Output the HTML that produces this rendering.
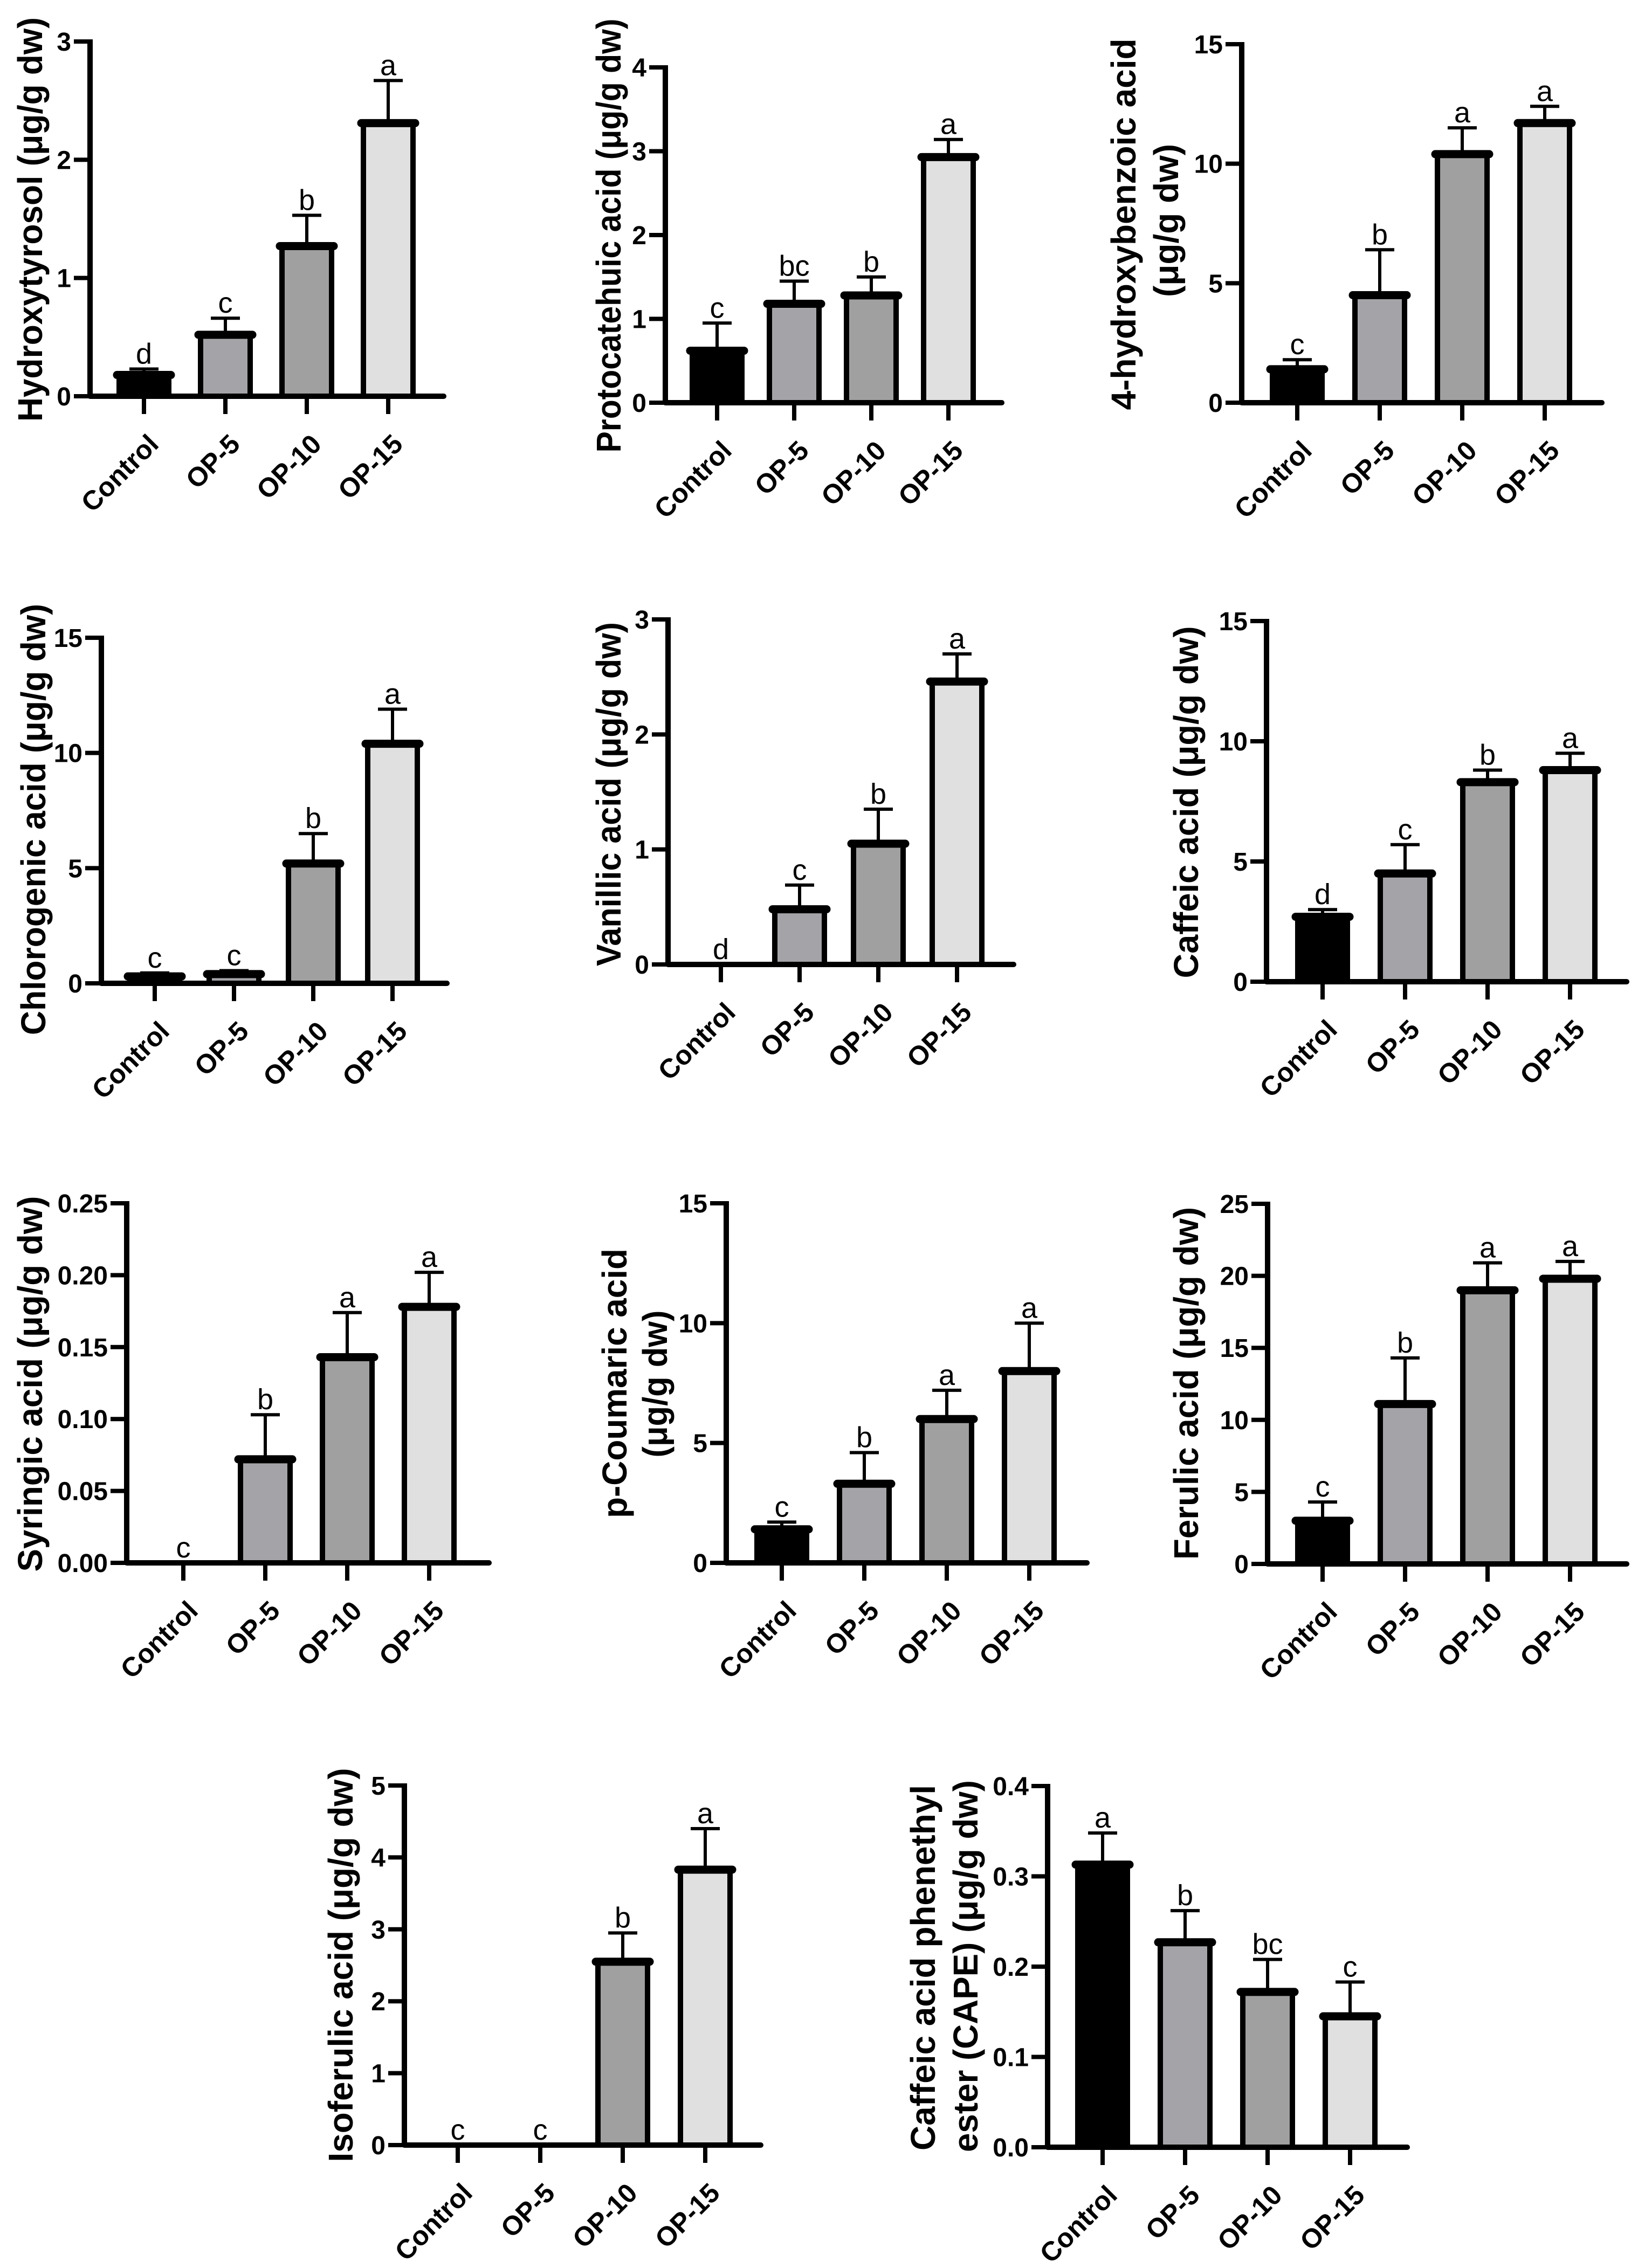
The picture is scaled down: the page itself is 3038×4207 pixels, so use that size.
<!DOCTYPE html>
<html><head><meta charset="utf-8">
<style>
html,body{margin:0;padding:0;background:#fff;}
svg{display:block;}
text{font-family:"Liberation Sans",Arial,sans-serif;}
</style></head>
<body>
<svg id="fig" width="3038" height="4207" viewBox="0 0 3038 4207" xmlns="http://www.w3.org/2000/svg"></svg>
<script>
const categories = ["Control","OP-5","OP-10","OP-15"];
const barColors = ["#000000","#a4a4a8","#a0a0a0","#e0e0e0"];

const hydroxytyrosolMeans = [0.18,0.52,1.27,2.31];
const hydroxytyrosolErr = [0.23,0.66,1.53,2.67];
const hydroxytyrosolLetters = ["d","c","b","a"];
const hydroxytyrosolTicks = [0,1,2,3];

const protocatehuicMeans = [0.62,1.18,1.28,2.93];
const protocatehuicErr = [0.95,1.45,1.50,3.14];
const protocatehuicLetters = ["c","bc","b","a"];
const protocatehuicTicks = [0,1,2,3,4];

const hydroxybenzoicMeans = [1.4,4.5,10.4,11.7];
const hydroxybenzoicErr = [1.8,6.4,11.5,12.4];
const hydroxybenzoicLetters = ["c","b","a","a"];
const hydroxybenzoicTicks = [0,5,10,15];

const chlorogenicMeans = [0.3,0.4,5.2,10.4];
const chlorogenicErr = [0.45,0.55,6.5,11.9];
const chlorogenicLetters = ["c","c","b","a"];
const chlorogenicTicks = [0,5,10,15];

const vanillicMeans = [0,0.48,1.05,2.46];
const vanillicErr = [0,0.69,1.35,2.70];
const vanillicLetters = ["d","c","b","a"];
const vanillicTicks = [0,1,2,3];

const caffeicMeans = [2.7,4.5,8.3,8.8];
const caffeicErr = [3.0,5.7,8.8,9.5];
const caffeicLetters = ["d","c","b","a"];
const caffeicTicks = [0,5,10,15];

const syringicMeans = [0,0.072,0.143,0.178];
const syringicErr = [0,0.103,0.174,0.202];
const syringicLetters = ["c","b","a","a"];
const syringicTicks = [0,0.05,0.10,0.15,0.20,0.25];

const coumaricMeans = [1.4,3.3,6.0,8.0];
const coumaricErr = [1.7,4.6,7.2,10.0];
const coumaricLetters = ["c","b","a","a"];
const coumaricTicks = [0,5,10,15];

const ferulicMeans = [3.0,11.1,19.0,19.8];
const ferulicErr = [4.3,14.3,20.9,21.0];
const ferulicLetters = ["c","b","a","a"];
const ferulicTicks = [0,5,10,15,20,25];

const isoferulicMeans = [0,0,2.55,3.83];
const isoferulicErr = [0,0,2.95,4.40];
const isoferulicLetters = ["c","c","b","a"];
const isoferulicTicks = [0,1,2,3,4,5];

const capeMeans = [0.313,0.227,0.172,0.145];
const capeErr = [0.348,0.262,0.208,0.183];
const capeLetters = ["a","b","bc","c"];
const capeTicks = [0,0.1,0.2,0.3,0.4];

const NS = "http://www.w3.org/2000/svg";
const svg = document.getElementById("fig");
function mk(tag, attrs, parent){
  const e = document.createElementNS(NS, tag);
  for (const k in attrs) e.setAttribute(k, attrs[k]);
  (parent||svg).appendChild(e);
  return e;
}

const panels = [
 {name:"hydroxytyrosol", means:hydroxytyrosolMeans, err:hydroxytyrosolErr, letters:hydroxytyrosolLetters, ticks:hydroxytyrosolTicks, dec:0,
  ax:167, top:77, y0:735, end:823, c0:267, dx:151,
  titles:[{t:"Hydroxytyrosol (μg/g dw)", x:56, cy:407, len:750}]},
 {name:"protocatechuic", means:protocatehuicMeans, err:protocatehuicErr, letters:protocatehuicLetters, ticks:protocatehuicTicks, dec:0,
  ax:1234, top:125, y0:747, end:1858, c0:1330, dx:143,
  titles:[{t:"Protocatehuic acid (μg/g dw)", x:1129, cy:437, len:805}]},
 {name:"hydroxybenzoic", means:hydroxybenzoicMeans, err:hydroxybenzoicErr, letters:hydroxybenzoicLetters, ticks:hydroxybenzoicTicks, dec:0,
  ax:2303, top:82, y0:747, end:2971, c0:2406, dx:153,
  titles:[{t:"4-hydroxybenzoic acid", x:2084, cy:416, len:689},{t:"(μg/g dw)", x:2163, cy:409, len:284}]},
 {name:"chlorogenic", means:chlorogenicMeans, err:chlorogenicErr, letters:chlorogenicLetters, ticks:chlorogenicTicks, dec:0,
  ax:188, top:1183, y0:1824, end:829, c0:287, dx:147,
  titles:[{t:"Chlorogenic acid (μg/g dw)", x:62, cy:1520, len:800}]},
 {name:"vanillic", means:vanillicMeans, err:vanillicErr, letters:vanillicLetters, ticks:vanillicTicks, dec:0,
  ax:1239, top:1149, y0:1789, end:1880, c0:1337, dx:146,
  titles:[{t:"Vanillic acid (μg/g dw)", x:1129, cy:1473, len:638}]},
 {name:"caffeic", means:caffeicMeans, err:caffeicErr, letters:caffeicLetters, ticks:caffeicTicks, dec:0,
  ax:2349, top:1152, y0:1821, end:3017, c0:2453, dx:153,
  titles:[{t:"Caffeic acid (μg/g dw)", x:2200, cy:1488, len:653}]},
 {name:"syringic", means:syringicMeans, err:syringicErr, letters:syringicLetters, ticks:syringicTicks, dec:2,
  ax:235, top:2232, y0:2899, end:907, c0:340, dx:152,
  titles:[{t:"Syringic acid (μg/g dw)", x:56, cy:2567, len:697}]},
 {name:"p-coumaric", means:coumaricMeans, err:coumaricErr, letters:coumaricLetters, ticks:coumaricTicks, dec:0,
  ax:1347, top:2232, y0:2899, end:2016, c0:1450, dx:153,
  titles:[{t:"p-Coumaric acid", x:1140, cy:2566, len:500},{t:"(μg/g dw)", x:1215, cy:2567, len:273}]},
 {name:"ferulic", means:ferulicMeans, err:ferulicErr, letters:ferulicLetters, ticks:ferulicTicks, dec:0,
  ax:2351, top:2233, y0:2901, end:3017, c0:2453, dx:153,
  titles:[{t:"Ferulic acid (μg/g dw)", x:2200, cy:2566, len:654}]},
 {name:"isoferulic", means:isoferulicMeans, err:isoferulicErr, letters:isoferulicLetters, ticks:isoferulicTicks, dec:0,
  ax:750, top:3312, y0:3979, end:1411, c0:849, dx:153,
  titles:[{t:"Isoferulic acid (μg/g dw)", x:632, cy:3645, len:731}]},
 {name:"cape", means:capeMeans, err:capeErr, letters:capeLetters, ticks:capeTicks, dec:1,
  ax:1943, top:3313, y0:3983, end:2610, c0:2045, dx:153,
  titles:[{t:"Caffeic acid phenethyl", x:1712, cy:3650, len:678},{t:"ester (CAPE) (μg/g dw)", x:1791, cy:3647, len:690}]}
];

panels.forEach(p => {
  const g = mk("g", {});
  
  
  const ymax = p.ticks[p.ticks.length-1];
  const yS = v => p.y0 - (v/ymax)*(p.y0 - p.top);
  const xS = i => p.c0 + i*p.dx;
  const bw = 92;

  p.means.forEach((v,i) => {
    if (v <= 0) return;
    const cx = xS(i), yt = yS(v);
    const bg = mk("g", {}, g);
    
    
    mk("rect", {x:cx-bw/2, y:yt, width:bw, height:p.y0-yt, fill:barColors[i], stroke:"#000", "stroke-width":10}, bg);
    mk("line", {x1:cx-bw/2-4, y1:yt, x2:cx+bw/2+4, y2:yt, stroke:"#000", "stroke-width":15, "stroke-linecap":"round"}, bg);
  });
  p.err.forEach((e,i) => {
    if (e <= p.means[i]) return;
    const cx = xS(i), ye = yS(e), yt = yS(p.means[i]);
    const eg = mk("g", {}, g);
    
    
    mk("line", {x1:cx, y1:yt, x2:cx, y2:ye, stroke:"#000", "stroke-width":6}, eg);
    mk("line", {x1:cx-27, y1:ye, x2:cx+27, y2:ye, stroke:"#000", "stroke-width":6}, eg);
  });
  p.letters.forEach((L,i) => {
    const top = Math.min(yS(p.err[i]), yS(p.means[i]));
    const t = mk("text", {x:xS(i), y:top-10, "text-anchor":"middle", "font-size":54, fill:"#000"}, g);
    
    
    t.textContent = L;
  });
  const ya = mk("line", {x1:p.ax, y1:p.top-4, x2:p.ax, y2:p.y0+4, stroke:"#000", "stroke-width":10}, g);
  
  
  const xa = mk("line", {x1:p.ax, y1:p.y0, x2:p.end, y2:p.y0, stroke:"#000", "stroke-width":10, "stroke-linecap":"round"}, g);
  
  
  p.ticks.forEach(tv => {
    const y = yS(tv);
    mk("line", {x1:p.ax-30, y1:y, x2:p.ax, y2:y, stroke:"#000", "stroke-width":8}, g);
    const t = mk("text", {x:p.ax-35, y:y+17, "text-anchor":"end", "font-size":48, "font-weight":"bold", fill:"#000"}, g);
    
    
    t.textContent = tv.toFixed(p.dec);
  });
  categories.forEach((c,i) => {
    const cx = xS(i);
    mk("line", {x1:cx, y1:p.y0, x2:cx, y2:p.y0+33, stroke:"#000", "stroke-width":8}, g);
    const tx = cx + 30, ty = p.y0 + 92;
    const t = mk("text", {x:tx, y:ty, "text-anchor":"end", "font-size":50, "font-weight":"bold", fill:"#000", transform:`rotate(-45 ${tx} ${ty})`}, g);
    
    
    t.textContent = c;
  });
  p.titles.forEach(tt => {
    const t = mk("text", {x:tt.x, y:tt.cy, "text-anchor":"middle", "dominant-baseline":"central", "font-size":64, "font-weight":"bold", fill:"#000", textLength:tt.len, lengthAdjust:"spacingAndGlyphs", transform:`rotate(-90 ${tt.x} ${tt.cy})`}, g);
    
    
    t.textContent = tt.t;
  });
});
</script>
</body></html>
